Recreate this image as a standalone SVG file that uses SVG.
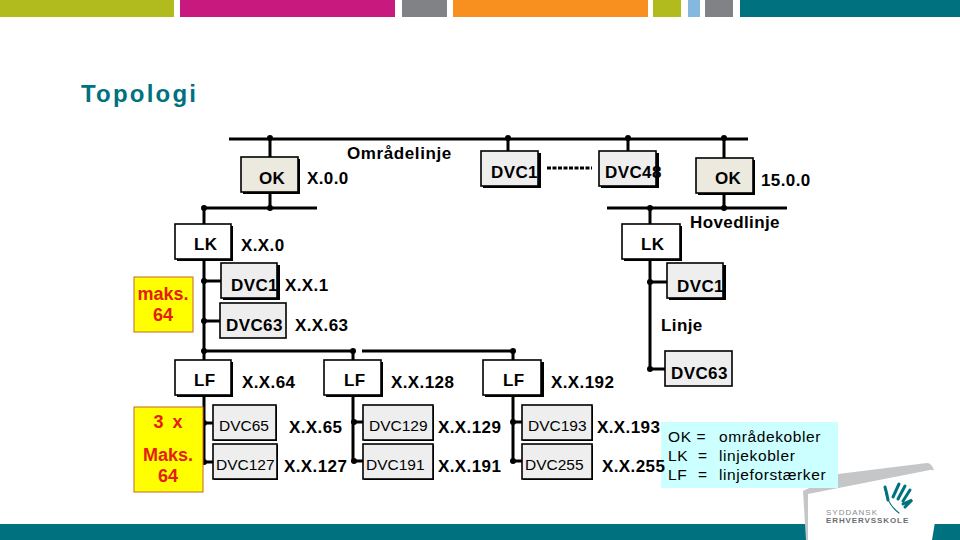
<svg xmlns="http://www.w3.org/2000/svg" width="960" height="540" viewBox="0 0 960 540">
<style>
text{font-family:"Liberation Sans",Arial,sans-serif;fill:#000}
.b{font-weight:700;font-size:17px;letter-spacing:.4px}
.r{font-size:15.5px}
.w{font-size:15.5px;letter-spacing:.6px}
.m{font-weight:700;font-size:18px;fill:#e3200f;text-anchor:middle}
.box{stroke:#000;stroke-width:1.6}
.s{fill:#000}
.ok{fill:#ece9df}
.dv{fill:#eeeeee}
.wh{fill:#fff}
.ye{fill:#ffff00;stroke:#c8642a;stroke-width:1}
#connectors line{stroke:#000;stroke-width:3}
#connectors circle{fill:#000}
</style>
<rect width="960" height="540" fill="#fff"/>
<g id="header">
<rect x="0" y="0" width="174" height="17" fill="#b2bb1e"/>
<rect x="180" y="0" width="215" height="17" fill="#c8197f"/>
<rect x="402" y="0" width="45" height="17" fill="#808285"/>
<rect x="453" y="0" width="195" height="17" fill="#f7901e"/>
<rect x="653" y="0" width="28" height="17" fill="#b2bb1e"/>
<rect x="688" y="0" width="12" height="17" fill="#84b8de"/>
<rect x="705" y="0" width="28" height="17" fill="#808285"/>
<rect x="740" y="0" width="220" height="17" fill="#00727f"/>
</g>
<rect id="footer" x="0" y="524" width="960" height="16" fill="#00727f"/>
<g id="logo">
<path d="M803 491 L838 474 L927 463 Q932 463 934 471 L808 540 L806 540Z" fill="#c4c6c8"/>
<path d="M808 494 L930 470 Q940 469 942 480 L932 540 L808 540Z" fill="#fff"/>
<g fill="none" stroke="#00727f" stroke-linecap="round">
<path d="M885 489 Q887 504 899 513" stroke-width="1.2"/>
<path d="M885 487 Q887 494 888 500" stroke-width="3"/>
<path d="M893 497 L899 484 M898 499 L905 486 M903 501 L910 490 M905 507 L912 500 L903 504" stroke-width="3"/>
</g>
<text x="826" y="515" font-size="8" letter-spacing="1" style="fill:#8a8c8e">SYDDANSK</text>
<text x="826" y="523" font-size="8" font-weight="700" letter-spacing=".9" style="fill:#6d6e71">ERHVERVSSKOLE</text>
</g>
<text id="title" x="81" y="102" font-size="24" font-weight="700" letter-spacing="2.2" style="fill:#00727f">Topologi</text>
<g id="connectors">
<line x1="229" y1="139" x2="748" y2="139"/>
<line x1="204" y1="208" x2="317" y2="208"/>
<line x1="607" y1="208" x2="787" y2="208"/>
<line x1="270" y1="139" x2="270" y2="157"/>
<line x1="270" y1="192" x2="270" y2="208"/>
<line x1="508" y1="139" x2="508" y2="151"/>
<line x1="628" y1="139" x2="628" y2="151"/>
<line x1="724" y1="139" x2="724" y2="158"/>
<line x1="724" y1="193" x2="724" y2="208"/>
<line x1="204" y1="208" x2="204" y2="224"/>
<line x1="204" y1="259" x2="204" y2="360"/>
<line x1="650" y1="208" x2="650" y2="224"/>
<line x1="650" y1="259" x2="650" y2="369"/>
<line x1="204" y1="281" x2="221" y2="281"/>
<line x1="204" y1="321" x2="220" y2="321"/>
<line x1="650" y1="282" x2="667" y2="282"/>
<line x1="650" y1="369" x2="665" y2="369"/>
<line x1="204" y1="351" x2="353" y2="351"/>
<line x1="362" y1="351" x2="513" y2="351"/>
<line x1="353" y1="351" x2="353" y2="360"/>
<line x1="513" y1="351" x2="513" y2="360"/>
<line x1="204" y1="395" x2="204" y2="462"/>
<line x1="353" y1="395" x2="353" y2="461"/>
<line x1="513" y1="395" x2="513" y2="461"/>
<line x1="204" y1="423" x2="213" y2="423"/>
<line x1="204" y1="462" x2="213" y2="462"/>
<line x1="353" y1="422" x2="363" y2="422"/>
<line x1="353" y1="461" x2="363" y2="461"/>
<line x1="513" y1="422" x2="522" y2="422"/>
<line x1="513" y1="461" x2="522" y2="461"/>
<line x1="547" y1="168" x2="592" y2="168" style="stroke-dasharray:4 1.5"/>
<circle cx="270" cy="138" r="3"/><circle cx="508" cy="138" r="3"/><circle cx="628" cy="138" r="3"/><circle cx="724" cy="138" r="3"/>
<circle cx="270" cy="208" r="3"/><circle cx="204" cy="208" r="3"/><circle cx="650" cy="208" r="3"/><circle cx="724" cy="208" r="3"/>
<circle cx="204" cy="281" r="3"/><circle cx="204" cy="321" r="3"/><circle cx="650" cy="282" r="3"/><circle cx="650" cy="369" r="3"/>
<circle cx="204" cy="351" r="3"/><circle cx="353" cy="351" r="3"/><circle cx="513" cy="351" r="3"/>
<circle cx="204" cy="423" r="3"/><circle cx="204" cy="462" r="3"/><circle cx="354" cy="422" r="3"/><circle cx="354" cy="461" r="3"/><circle cx="513" cy="422" r="3"/><circle cx="513" cy="461" r="3"/>
</g>
<g id="ok1"><rect class="s" x="243" y="159" width="57" height="35"/><rect class="box ok" x="241" y="157" width="57" height="35"/><text class="b" x="259" y="184">OK</text></g>
<text class="b" x="347" y="159" style="letter-spacing:.6px">Områdelinje</text>
<text class="b" x="307" y="184">X.0.0</text>
<g id="dvc1top"><rect class="s" x="483" y="153" width="58" height="35"/><rect class="box dv" x="481" y="151" width="57" height="35"/><text class="b" x="491" y="178">DVC1</text></g>
<g id="dvc48"><rect class="s" x="601" y="153" width="58" height="35"/><rect class="box dv" x="599" y="151" width="57" height="35"/><text class="b" x="605" y="178">DVC48</text></g>
<g id="ok2"><rect class="s" x="698" y="160" width="57" height="35"/><rect class="box ok" x="696" y="158" width="57" height="35"/><text class="b" x="715" y="184">OK</text></g>
<text class="b" x="761" y="186">15.0.0</text>
<text class="b" x="690" y="228">Hovedlinje</text>
<g id="lk1"><rect class="s" x="177" y="226" width="56" height="35"/><rect class="box wh" x="175" y="224" width="56" height="35"/><text class="b" x="194" y="250">LK</text></g>
<text class="b" x="241" y="251">X.X.0</text>
<g id="lk2"><rect class="s" x="624" y="226" width="58" height="35"/><rect class="box wh" x="622" y="224" width="58" height="35"/><text class="b" x="641" y="250">LK</text></g>
<g id="dvc1l"><rect class="s" x="223" y="265" width="57" height="35"/><rect class="box dv" x="221" y="263" width="56" height="35"/><text class="b" x="231" y="291">DVC1</text></g>
<text class="b" x="285" y="291">X.X.1</text>
<g id="dvc63l"><rect class="box dv" x="220" y="303" width="66" height="35"/><text class="b" x="226" y="331">DVC63</text></g>
<text class="b" x="295" y="331">X.X.63</text>
<g id="dvc1r"><rect class="s" x="669" y="265" width="57" height="35"/><rect class="box dv" x="667" y="263" width="56" height="35"/><text class="b" x="677" y="292">DVC1</text></g>
<text class="b" x="661" y="331">Linje</text>
<g id="dvc63r"><rect class="box dv" x="665" y="351" width="67" height="35"/><text class="b" x="671" y="379">DVC63</text></g>
<g id="maks1"><rect class="ye" x="134" y="277" width="59" height="55"/><text class="m" x="163" y="300">maks.</text><text class="m" x="163" y="321">64</text></g>
<g id="maks2"><rect class="ye" x="134" y="407" width="69" height="85"/><text class="m" x="169" y="428" style="letter-spacing:2px">3 x</text><text class="m" x="168" y="461">Maks.</text><text class="m" x="168" y="482">64</text></g>
<g id="lf1"><rect class="s" x="177" y="362" width="56" height="35"/><rect class="box wh" x="175" y="360" width="56" height="35"/><text class="b" x="194" y="386">LF</text></g>
<text class="b" x="242" y="388">X.X.64</text>
<g id="lf2"><rect class="s" x="326" y="362" width="57" height="35"/><rect class="box wh" x="324" y="360" width="57" height="35"/><text class="b" x="344" y="386">LF</text></g>
<text class="b" x="391" y="388">X.X.128</text>
<g id="lf3"><rect class="s" x="485" y="362" width="59" height="35"/><rect class="box wh" x="483" y="360" width="58" height="35"/><text class="b" x="503" y="386">LF</text></g>
<text class="b" x="551" y="388">X.X.192</text>
<g id="dvc65"><rect class="s" x="214" y="406" width="63" height="35"/><rect class="box dv" x="213" y="405" width="63" height="35"/><text class="r" x="219" y="431">DVC65</text></g>
<text class="b" x="289" y="433">X.X.65</text>
<g id="dvc127"><rect class="s" x="214" y="445" width="64" height="35"/><rect class="box dv" x="213" y="444" width="64" height="35"/><text class="r" x="216" y="470">DVC127</text></g>
<text class="b" x="284" y="472">X.X.127</text>
<g id="dvc129"><rect class="s" x="364" y="406" width="70" height="35"/><rect class="box dv" x="363" y="405" width="70" height="35"/><text class="r" x="369" y="431">DVC129</text></g>
<text class="b" x="438" y="433">X.X.129</text>
<g id="dvc191"><rect class="s" x="364" y="445" width="70" height="35"/><rect class="box dv" x="363" y="444" width="70" height="35"/><text class="r" x="366" y="470">DVC191</text></g>
<text class="b" x="438" y="472">X.X.191</text>
<g id="dvc193"><rect class="s" x="523" y="406" width="70" height="35"/><rect class="box dv" x="522" y="405" width="70" height="35"/><text class="r" x="528" y="431">DVC193</text></g>
<text class="b" x="597" y="433">X.X.193</text>
<g id="dvc255"><rect class="s" x="523" y="445" width="70" height="35"/><rect class="box dv" x="522" y="444" width="70" height="35"/><text class="r" x="525" y="470">DVC255</text></g>
<g id="legend"><rect x="661" y="422" width="177" height="66" fill="#ccffff"/>
<text class="w" x="668" y="442">OK =</text><text class="w" x="719" y="442">områdekobler</text>
<text class="w" x="668" y="461">LK</text><text class="w" x="698" y="461">=</text><text class="w" x="719" y="461">linjekobler</text>
<text class="w" x="668" y="480">LF</text><text class="w" x="698" y="480">=</text><text class="w" x="719" y="480">linjeforstærker</text></g>
<text class="b" x="602" y="472">X.X.255</text>
</svg>
